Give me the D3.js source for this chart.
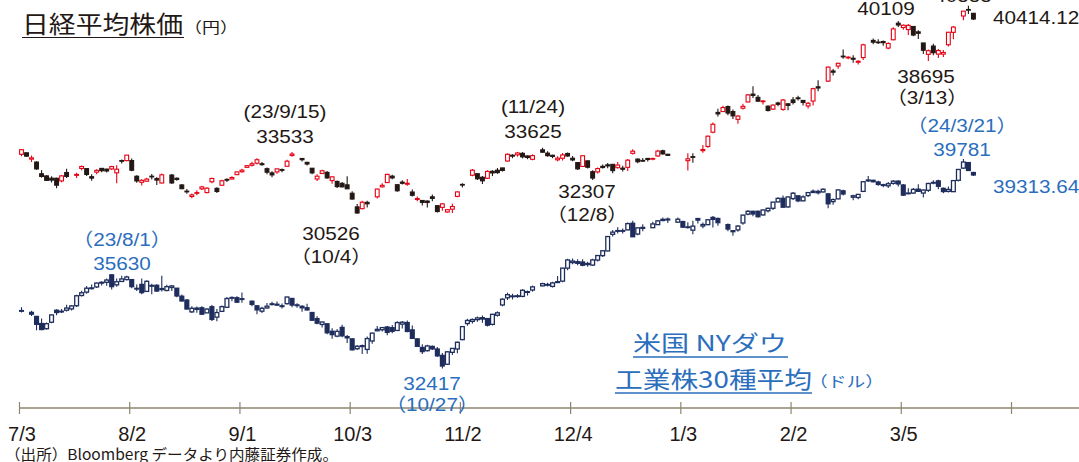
<!DOCTYPE html>
<html><head><meta charset="utf-8">
<script src="https://cdn.jsdelivr.net/npm/d3@7/dist/d3.min.js"></script>
<style>
html,body{margin:0;padding:0;background:#fff;}
svg{display:block;}
</style></head><body>
<svg id="c" width="1079" height="462"></svg>
<script>
// ---------------- Nikkei 225 (daily OHLC) ----------------
const nkDates = [
"2023-07-03","2023-07-04","2023-07-05","2023-07-06","2023-07-07","2023-07-10","2023-07-11","2023-07-12","2023-07-13","2023-07-14","2023-07-18","2023-07-19","2023-07-20","2023-07-21","2023-07-24","2023-07-25","2023-07-26","2023-07-27","2023-07-28","2023-07-31",
"2023-08-01","2023-08-02","2023-08-03","2023-08-04","2023-08-07","2023-08-08","2023-08-09","2023-08-10","2023-08-14","2023-08-15","2023-08-16","2023-08-17","2023-08-18","2023-08-21","2023-08-22","2023-08-23","2023-08-24","2023-08-25","2023-08-28","2023-08-29","2023-08-30","2023-08-31",
"2023-09-01","2023-09-04","2023-09-05","2023-09-06","2023-09-07","2023-09-08","2023-09-11","2023-09-12","2023-09-13","2023-09-14","2023-09-15","2023-09-19","2023-09-20","2023-09-21","2023-09-22","2023-09-25","2023-09-26","2023-09-27","2023-09-28","2023-09-29",
"2023-10-02","2023-10-03","2023-10-04","2023-10-05","2023-10-06","2023-10-10","2023-10-11","2023-10-12","2023-10-13","2023-10-16","2023-10-17","2023-10-18","2023-10-19","2023-10-20","2023-10-23","2023-10-24","2023-10-25","2023-10-26","2023-10-27","2023-10-30","2023-10-31",
"2023-11-01","2023-11-02","2023-11-06","2023-11-07","2023-11-08","2023-11-09","2023-11-10","2023-11-13","2023-11-14","2023-11-15","2023-11-16","2023-11-17","2023-11-20","2023-11-21","2023-11-22","2023-11-24","2023-11-27","2023-11-28","2023-11-29","2023-11-30",
"2023-12-01","2023-12-04","2023-12-05","2023-12-06","2023-12-07","2023-12-08","2023-12-11","2023-12-12","2023-12-13","2023-12-14","2023-12-15","2023-12-18","2023-12-19","2023-12-20","2023-12-21","2023-12-22","2023-12-25","2023-12-26","2023-12-27","2023-12-28","2023-12-29",
"2024-01-04","2024-01-05","2024-01-09","2024-01-10","2024-01-11","2024-01-12","2024-01-15","2024-01-16","2024-01-17","2024-01-18","2024-01-19","2024-01-22","2024-01-23","2024-01-24","2024-01-25","2024-01-26","2024-01-29","2024-01-30","2024-01-31",
"2024-02-01","2024-02-02","2024-02-05","2024-02-06","2024-02-07","2024-02-08","2024-02-09","2024-02-13","2024-02-14","2024-02-15","2024-02-16","2024-02-19","2024-02-20","2024-02-21","2024-02-22","2024-02-26","2024-02-27","2024-02-28","2024-02-29",
"2024-03-01","2024-03-04","2024-03-05","2024-03-06","2024-03-07","2024-03-08","2024-03-11","2024-03-12","2024-03-13","2024-03-14","2024-03-15","2024-03-18","2024-03-19","2024-03-21","2024-03-22","2024-03-25"];
const nkOpen = [
33517,33595,33272,33121,32526,32417,32301,32298,32161,32588,32446,32797,32789,32377,32609,32801,32764,32772,32573,33200,
33196,33200,32400,32090,32148,32402,32277,32056,32460,32298,31957,31640,31370,31536,31757,31565,32117,31782,31941,32236,32260,32480,
32631,32853,32957,33066,33037,32784,32570,32620,32737,32908,33462,33306,33107,32808,32259,32539,32597,32179,32134,32035,
31962,31534,30837,30746,31069,31350,31859,32077,32405,31968,32100,31992,31596,31214,31165,31135,31351,30898,30814,30580,30720,
31372,31983,32450,32528,32348,32296,32652,32709,32823,33175,33474,33490,33567,33436,33263,33745,33578,33469,33238,33317,
33560,33318,33096,32898,33185,32632,32620,32905,32981,33006,32835,32813,32854,33568,33274,33205,33308,33279,33434,33698,33520,
33193,33398,33704,33917,34644,35654,35696,35951,35698,35300,35866,36186,36586,36421,36216,35971,35821,36135,35808,
36092,36290,36396,36265,35982,36233,36958,37248,37766,38017,38521,38459,38415,38210,38449,39324,39241,39266,38933,
39355,40201,39980,39876,40033,39760,39193,38612,39036,38625,38624,39102,39734,40568,40900,40705];
const nkHigh = [
33762,33595,33455,33166,32713,32448,32402,32317,32447,32780,32575,32944,32800,32507,32750,32812,32784,32935,32964,33253,
33488,33303,32445,32244,32319,32518,32355,32542,32515,32341,31990,31751,31514,31681,31919,31836,32317,31835,32218,32295,32393,32645,
32781,32973,33134,33322,33129,32847,32651,32784,32792,33243,33634,33324,33133,32808,32504,32731,32664,32377,32184,32110,
32401,31636,30991,31149,31145,31761,32047,32533,32480,31996,32190,32260,31725,31367,31185,31182,31466,30911,31039,30732,31002,
31633,32038,32766,32548,32414,32707,32711,32820,32831,33568,33520,33641,33632,33453,33519,33853,33673,33496,33414,33588,
33612,33426,33104,33452,33208,32705,32851,33001,33069,33006,33124,32932,33275,33772,33299,33325,33308,33347,33755,33747,33540,
33568,33568,33990,34477,35142,35839,35990,36008,35801,35523,36097,36587,36984,36543,36280,36005,36057,36196,36334,
36119,36441,36506,36284,36182,36911,37287,37999,37865,38189,38865,38519,38567,38312,39156,39426,39388,39324,39235,
39990,40314,40137,40159,40039,39844,39193,38861,39149,38891,38832,39742,40057,40823,41087,40723];
const nkLow = [
33421,33391,33128,32726,32327,32153,32084,31791,32099,32304,32312,32704,32413,32170,32495,32601,32590,32720,32037,33053,
33165,32648,32065,31934,32119,32233,31948,32030,32000,32165,31742,31504,31275,31437,31698,31538,32041,31545,31926,32112,32230,32471,
32583,32829,32897,33001,32939,32506,32348,32522,32602,32902,33391,33154,32942,32496,32154,32515,32274,32021,31799,31837,
31751,31215,30487,30720,30809,31262,31830,32049,32241,31607,31981,31917,31371,31120,30902,30800,31129,30551,30640,30538,30529,
31327,31820,32395,32211,32006,32262,32405,32523,32639,33151,33320,33398,33310,33269,33213,33592,33398,33321,33170,33204,
33390,33160,32716,32875,32800,32205,32543,32788,32812,32552,32789,32643,32672,33505,33066,33135,33153,33214,33399,33494,33450,
32693,33090,33600,33855,34596,35440,35696,35505,35323,35081,35802,36172,36382,36214,36056,35704,35778,35969,35734,
35759,36061,36262,36005,35854,36012,36733,37204,37535,37880,38391,38369,38185,38094,38324,39125,39145,39052,38876,
39331,40005,39871,39604,39538,39397,38636,38271,38562,38428,38480,39011,39377,40351,40671,40359];
const nkClose = [
33753,33422,33338,32773,32388,32189,32203,31943,32419,32391,32493,32896,32490,32304,32700,32682,32668,32891,32759,33172,
33476,32707,32159,32192,32254,32377,32204,32473,32059,32238,31766,31626,31450,31565,31856,31791,32287,31624,32169,32226,32333,32619,
32710,32939,33036,33241,32991,32606,32467,32776,32706,33168,33533,33242,33023,32571,32402,32678,32315,32371,31872,31857,
31759,31237,30526,31075,30994,31746,31936,32494,32315,31659,32040,32042,31430,31259,31062,31062,31269,30601,30991,30696,30858,
31601,31949,32708,32271,32166,32646,32568,32585,32695,33519,33424,33585,33388,33354,33451,33625,33447,33408,33321,33486,
33431,33231,32775,33445,32858,32307,32791,32843,32926,32686,32970,32758,33219,33675,33140,33169,33254,33305,33681,33539,33464,
33288,33377,33763,34441,35049,35577,35901,35619,35477,35466,35963,36546,36517,36226,36236,35751,36026,36065,36286,
36011,36158,36354,36160,36119,36863,36897,37963,37703,38157,38487,38470,38363,38262,39098,39233,39239,39208,39166,
39910,40109,40097,40090,39598,39688,38820,38797,38695,38807,38707,39740,40003,40815,40888,40414];

// ---------------- NY Dow (daily OHLC) ----------------
const djDates = [
"2023-07-03","2023-07-05","2023-07-06","2023-07-07","2023-07-10","2023-07-11","2023-07-12","2023-07-13","2023-07-14","2023-07-17","2023-07-18","2023-07-19","2023-07-20","2023-07-21","2023-07-24","2023-07-25","2023-07-26","2023-07-27","2023-07-28","2023-07-31",
"2023-08-01","2023-08-02","2023-08-03","2023-08-04","2023-08-07","2023-08-08","2023-08-09","2023-08-10","2023-08-11","2023-08-14","2023-08-15","2023-08-16","2023-08-17","2023-08-18","2023-08-21","2023-08-22","2023-08-23","2023-08-24","2023-08-25","2023-08-28","2023-08-29","2023-08-30","2023-08-31",
"2023-09-01","2023-09-05","2023-09-06","2023-09-07","2023-09-08","2023-09-11","2023-09-12","2023-09-13","2023-09-14","2023-09-15","2023-09-18","2023-09-19","2023-09-20","2023-09-21","2023-09-22","2023-09-25","2023-09-26","2023-09-27","2023-09-28","2023-09-29",
"2023-10-02","2023-10-03","2023-10-04","2023-10-05","2023-10-06","2023-10-09","2023-10-10","2023-10-11","2023-10-12","2023-10-13","2023-10-16","2023-10-17","2023-10-18","2023-10-19","2023-10-20","2023-10-23","2023-10-24","2023-10-25","2023-10-26","2023-10-27","2023-10-30","2023-10-31",
"2023-11-01","2023-11-02","2023-11-03","2023-11-06","2023-11-07","2023-11-08","2023-11-09","2023-11-10","2023-11-13","2023-11-14","2023-11-15","2023-11-16","2023-11-17","2023-11-20","2023-11-21","2023-11-22","2023-11-24","2023-11-27","2023-11-28","2023-11-29","2023-11-30",
"2023-12-01","2023-12-04","2023-12-05","2023-12-06","2023-12-07","2023-12-08","2023-12-11","2023-12-12","2023-12-13","2023-12-14","2023-12-15","2023-12-18","2023-12-19","2023-12-20","2023-12-21","2023-12-22","2023-12-26","2023-12-27","2023-12-28","2023-12-29",
"2024-01-02","2024-01-03","2024-01-04","2024-01-05","2024-01-08","2024-01-09","2024-01-10","2024-01-11","2024-01-12","2024-01-16","2024-01-17","2024-01-18","2024-01-19","2024-01-22","2024-01-23","2024-01-24","2024-01-25","2024-01-26","2024-01-29","2024-01-30","2024-01-31",
"2024-02-01","2024-02-02","2024-02-05","2024-02-06","2024-02-07","2024-02-08","2024-02-09","2024-02-12","2024-02-13","2024-02-14","2024-02-15","2024-02-16","2024-02-20","2024-02-21","2024-02-22","2024-02-23","2024-02-26","2024-02-27","2024-02-28","2024-02-29",
"2024-03-01","2024-03-04","2024-03-05","2024-03-06","2024-03-07","2024-03-08","2024-03-11","2024-03-12","2024-03-13","2024-03-14","2024-03-15","2024-03-18","2024-03-19","2024-03-20","2024-03-21","2024-03-22","2024-03-25"];
const djOpen = [
34408,34353,34207,33950,33762,33997,34430,34391,34430,34479,34592,34962,35083,35236,35271,35408,35438,35707,35346,35469,
35537,35535,35221,35362,35110,35325,35330,35213,35143,35250,35225,34936,34797,34371,34506,34519,34334,34556,34180,34389,34536,34880,34880,
34845,34755,34590,34396,34513,34661,34614,34590,34666,34855,34606,34572,34520,34348,34127,33917,33940,33670,33495,33810,
33478,33396,33041,33150,33015,33320,33688,33725,33825,33800,33700,33930,33985,33720,33395,33087,32970,33124,33030,32800,32480,32910,
33031,33370,33950,34028,34090,34160,34129,33920,34250,34620,34880,34930,34950,34930,35100,35160,35310,35360,35290,35460,35480,
35950,36150,36180,36170,36080,36060,36240,36400,36570,37170,37290,37290,37330,37570,37180,37420,37410,37520,37670,37720,
37610,37630,37420,37320,37740,37470,37520,37780,37740,37520,37300,37330,37580,37900,38000,38000,37870,38020,38110,38340,38470,
38160,38460,38560,38380,38570,38680,38720,38700,38630,38350,38450,38740,38510,38500,38720,39100,39120,39060,38960,38920,
39010,39090,38950,38640,38660,38800,38660,38760,39020,39100,38830,38720,38710,39120,39560,39760,39400];
const djHigh = [
34539,34410,34207,34130,33984,34276,34468,34472,34630,34619,34989,35135,35302,35359,35435,35472,35578,35730,35578,35679,
35679,35535,35360,35579,35510,35385,35369,35679,35353,35342,35225,35002,34835,34577,34563,34575,34504,34620,34479,34598,34907,34924,34935,
35070,34779,34602,34554,34695,34733,34741,34673,34916,34855,34684,34608,34662,34348,34212,34018,33950,33779,33750,33903,
33537,33419,33172,33197,33483,33618,33864,33822,33857,33893,34030,34040,34060,33880,33420,33200,33180,33155,33100,32890,32960,33070,
33303,33861,34120,34130,34200,34240,34150,34300,34390,34862,35065,35025,35010,35190,35140,35320,35420,35420,35460,35670,35960,
36290,36300,36270,36270,36180,36290,36410,36590,37100,37330,37430,37380,37600,37660,37430,37530,37620,37680,37780,37780,
37780,37660,37610,37660,37740,37600,37720,37830,37780,37560,37330,37510,37880,38050,38020,38030,38070,38130,38340,38510,38570,
38540,38700,38570,38580,38700,38790,38780,38830,38640,38460,38800,38780,38600,38630,39090,39280,39140,39100,39000,39060,
39130,39120,38990,38830,38840,38980,38790,39030,39120,39140,38860,38900,39120,39530,39890,39770,39430];
const djLow = [
34350,34221,33705,33711,33736,33957,34247,34327,34381,34418,34551,34930,35026,35177,35237,35327,35311,35179,35280,35450,
35500,35223,35120,35010,35090,35003,35099,35104,35114,35128,34902,34744,34462,34326,34337,34254,34332,34040,34029,34374,34514,34758,34704,
34698,34577,34285,34330,34484,34603,34591,34490,34640,34538,34522,34374,34419,34054,33925,33808,33567,33397,33457,33459,
33243,32978,32991,32847,32860,33219,33668,33660,33526,33598,33690,33775,33636,33400,33117,32846,32940,32995,32740,32327,32460,32812,
32875,33350,33870,33950,34010,33980,33842,33880,34200,34570,34800,34820,34880,34900,34960,35100,35300,35290,35250,35420,35440,
35870,36090,36050,36020,36000,36030,36190,36350,36560,37090,37200,37200,37320,37080,37140,37280,37400,37510,37640,37580,
37580,37400,37380,37170,37560,37390,37500,37420,37480,37280,37120,37260,37520,37860,37820,37780,37850,37960,38050,38330,38140,
38130,38410,38330,38360,38520,38660,38610,38680,38110,38240,38440,38570,38400,38440,38700,39060,39040,38920,38870,38840,
38960,38900,38550,38620,38630,38700,38500,38700,38980,38800,38650,38680,38700,39080,39530,39460,39280];
const djClose = [
34418,34288,33922,33734,33944,34261,34347,34395,34509,34585,34952,35061,35225,35228,35411,35438,35520,35282,35459,35560,
35630,35282,35215,35066,35473,35314,35123,35176,35281,35307,34946,34765,34474,34500,34463,34288,34472,34099,34346,34559,34852,34890,34721,
34837,34641,34443,34500,34576,34663,34645,34575,34907,34618,34624,34517,34441,34070,33963,34006,33618,33550,33666,33507,
33433,33002,33129,33119,33407,33604,33739,33804,33631,33670,33984,33997,33665,33414,33127,32936,33141,33035,32784,32417,32928,33052,
33274,33839,34061,34095,34152,34112,33891,34283,34337,34828,34991,34945,34947,35151,35088,35273,35390,35333,35416,35430,35950,
36245,36204,36124,36054,36117,36247,36404,36577,37090,37248,37305,37306,37557,37082,37404,37385,37545,37656,37710,37689,
37715,37430,37440,37466,37683,37525,37695,37711,37592,37361,37266,37468,37863,38001,37905,37806,38049,38109,38333,38467,38150,
38519,38654,38380,38521,38677,38726,38671,38797,38272,38424,38773,38627,38563,38612,39069,39131,39069,38972,38949,38996,
39087,38989,38585,38661,38791,38722,38769,39005,39043,38905,38714,38790,39110,39512,39781,39475,39313];

// ---------------- axis ticks ----------------
const tickIndex  = [0, 22, 44, 66, 88, 110, 132, 154, 176, 198];
const tickLabels = ["7/3","8/2","9/1","10/3","11/2","12/4","1/3","2/2","3/5",""];

// ---------------- drawing ----------------
const svg = d3.select("#c");
const parse = d3.timeParse("%Y-%m-%d");
const start = parse("2023-07-03");
function wk(s){ const n = d3.timeDay.count(start, parse(s)); return Math.floor(n/7)*5 + (n%7); }

const x  = d3.scaleLinear().domain([0, 198]).range([19, 1011]);
const yN = d3.scaleLinear().domain([30526, 40109]).range([213, 25]);
const yD = d3.scaleLinear().domain([32417, 39781]).range([366, 162]);

const NUM = "'Liberation Sans', Arial, 'Noto Sans CJK JP', sans-serif";
const JP  = "'Noto Sans CJK JP', 'Noto Sans CJK SC', sans-serif";
const INK = "#231815", RED = "#e60012", NAVY = "#1e2d5c", BLUE = "#2a6ebd", AXIS = "#8c8672";

function candles(dates, O, H, L, C, y, upStroke, downFill, sw, bw){
  const data = dates.map((d, i) => ({i: wk(d), o: O[i], h: H[i], l: L[i], c: C[i]}));
  const g = svg.append("g");
  g.selectAll("line").data(data).join("line")
    .attr("x1", d => x(d.i + 0.5)).attr("x2", d => x(d.i + 0.5))
    .attr("y1", d => y(d.h)).attr("y2", d => y(d.l))
    .attr("stroke", d => d.c > d.o ? upStroke : downFill).attr("stroke-width", 1.1);
  g.selectAll("rect").data(data).join("rect")
    .attr("x", d => x(d.i + 0.5) - bw / 2)
    .attr("y", d => y(Math.max(d.o, d.c)))
    .attr("width", bw)
    .attr("height", d => Math.max(0.7, Math.abs(y(d.o) - y(d.c))))
    .attr("fill", d => d.c > d.o ? "#fff" : downFill)
    .attr("stroke", d => d.c > d.o ? upStroke : downFill)
    .attr("stroke-width", sw);
}
candles(djDates, djOpen, djHigh, djLow, djClose, yD, NAVY, NAVY, 1.3, 3.8);
candles(nkDates, nkOpen, nkHigh, nkLow, nkClose, yN, RED, INK, 1.1, 3.8);

// x axis
const axisG = svg.append("g").attr("transform", "translate(0,408)");
axisG.append("line").attr("x1", x(0)).attr("x2", 1079).attr("y1", 0).attr("y2", 0)
  .attr("stroke", AXIS).attr("stroke-width", 1.5);
const ax = d3.axisBottom(x).tickValues(tickIndex).tickFormat((d, i) => tickLabels[i]).tickSizeOuter(0).tickSize(6);
const axG2 = axisG.append("g").call(ax);
axG2.select(".domain").remove();
axG2.selectAll(".tick line").attr("y1", -6).attr("y2", 6).attr("stroke", AXIS).attr("stroke-width", 1.2);
axG2.selectAll(".tick text").attr("y", 33).attr("dy", 0).attr("x", 2.5)
  .attr("font-family", NUM).attr("font-size", 20).attr("fill", INK);

// text helper
function txt(px, py, s, o = {}){
  svg.append("text")
    .attr("transform", `translate(${px},${py}) scale(${o.sx ?? 1.12},1)`)
    .attr("text-anchor", o.anchor ?? "middle")
    .attr("font-family", o.family ?? NUM)
    .attr("font-size", o.size ?? 18.5)
    .attr("fill", o.fill ?? INK)
    .text(s);
}

// Nikkei annotations
txt(285, 118, "(23/9/15)");
txt(285, 143, "33533");
txt(331, 240, "30526");
txt(331, 263, "（10/4）");
txt(533, 113, "(11/24)");
txt(533, 138, "33625");
txt(587, 198, "32307");
txt(587, 221, "（12/8）");
txt(886, 15, "40109");
txt(963, 2, "40888");
txt(993, 24, "40414.12", {anchor: "start"});
txt(926, 83, "38695");
txt(927, 104, "（3/13）");

// Dow annotations
txt(122, 246, "（23/8/1）", {fill: BLUE});
txt(122, 270, "35630", {fill: BLUE});
txt(432, 390, "32417", {fill: BLUE});
txt(432, 411, "（10/27）", {fill: BLUE});
txt(962, 132, "（24/3/21）", {fill: BLUE});
txt(962, 156, "39781", {fill: BLUE});
txt(993, 193, "39313.64", {anchor: "start", fill: BLUE});

// Titles
svg.append("text").attr("x", 22).attr("y", 33).attr("font-family", JP).attr("font-size", 24)
  .attr("fill", INK).attr("textLength", 161).attr("lengthAdjust", "spacingAndGlyphs").text("日経平均株価");
svg.append("line").attr("x1", 22).attr("x2", 184).attr("y1", 37.5).attr("y2", 37.5).attr("stroke", INK).attr("stroke-width", 1.2);
txt(184, 33, "（円）", {anchor: "start", family: JP, size: 15, sx: 1.2});

svg.append("text").attr("x", 633).attr("y", 351).attr("font-family", JP).attr("font-size", 22)
  .attr("fill", BLUE).attr("textLength", 154).attr("lengthAdjust", "spacingAndGlyphs").text("米国 NYダウ");
svg.append("line").attr("x1", 633).attr("x2", 788).attr("y1", 357).attr("y2", 357).attr("stroke", BLUE).attr("stroke-width", 1.4);
svg.append("text").attr("x", 615).attr("y", 388).attr("font-family", JP).attr("font-size", 23)
  .attr("fill", BLUE).attr("textLength", 197).attr("lengthAdjust", "spacingAndGlyphs").text("工業株30種平均");
svg.append("line").attr("x1", 615).attr("x2", 812).attr("y1", 393).attr("y2", 393).attr("stroke", BLUE).attr("stroke-width", 1.4);
txt(809, 387, "（ドル）", {anchor: "start", family: JP, size: 15, sx: 1.25, fill: BLUE});

// Source
svg.append("text").attr("x", 5).attr("y", 460).attr("font-family", JP).attr("font-size", 15)
  .attr("fill", INK).attr("textLength", 333).attr("lengthAdjust", "spacingAndGlyphs")
  .text("（出所）Bloomberg データより内藤証券作成。");
</script>
</body></html>
